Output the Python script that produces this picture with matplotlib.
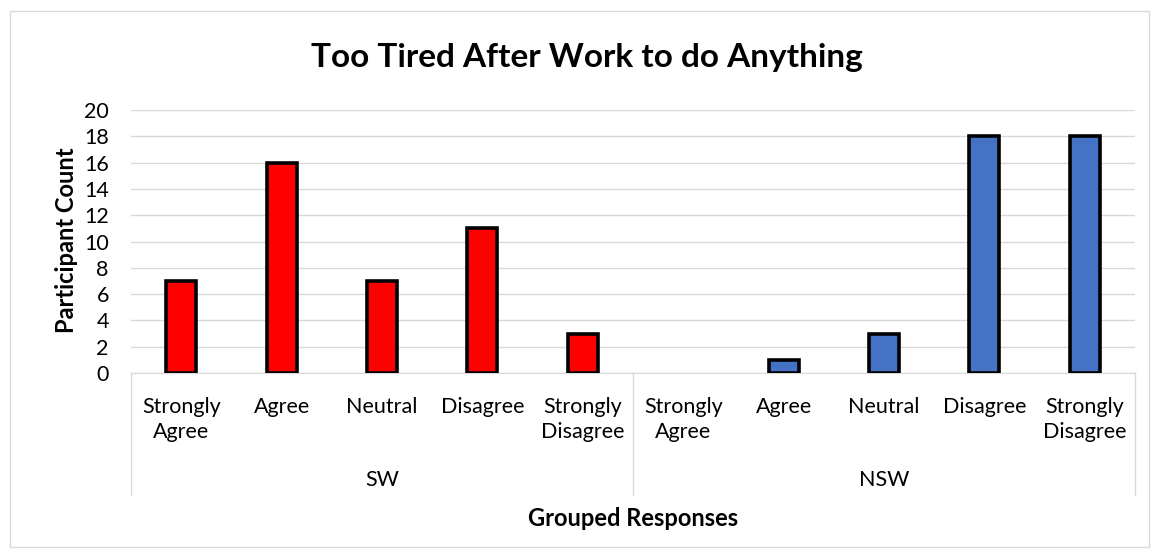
import matplotlib.pyplot as plt
from matplotlib.patches import Rectangle

plt.rcParams['font.family'] = ['Lato', 'DejaVu Sans']

# data
groups = ['SW', 'NSW']
responses = ['Strongly\nAgree', 'Agree', 'Neutral', 'Disagree', 'Strongly\nDisagree']
sw_counts = [7, 16, 7, 11, 3]
nsw_counts = [0, 1, 3, 18, 18]
group_colors = ['#FF0000', '#4472C4']

W, H = 1159, 557
fig = plt.figure(figsize=(W / 100, H / 100), dpi=100)

# light outer chart border like Excel
fig.patches.append(Rectangle((10 / W, 10 / H), 1139 / W, 536 / H, transform=fig.transFigure,
                             fill=False, edgecolor='#D9D9D9', linewidth=1))

ax = fig.add_axes([131 / W, 184 / H, 1004 / W, 263 / H])

labels = responses + responses
values = sw_counts + nsw_counts
colors = [group_colors[0]] * len(sw_counts) + [group_colors[1]] * len(nsw_counts)
x = list(range(len(values)))
edges = ['black' if v > 0 else 'none' for v in values]
ax.bar(x, values, width=0.3, color=colors, edgecolor=edges, linewidth=2.6, zorder=3)

ax.set_xlim(-0.5, len(values) - 0.5)
ax.set_ylim(0, 20)
ax.set_yticks(range(0, 21, 2))
ax.yaxis.grid(True, color='#D9D9D9', linewidth=1)
ax.set_axisbelow(True)
for s in ['top', 'right', 'left']:
    ax.spines[s].set_visible(False)
ax.spines['bottom'].set_color('#D9D9D9')
ax.tick_params(axis='y', length=0, labelsize=15.5, pad=16)
ax.set_xticks(x)
ax.set_xticklabels(labels, fontsize=15.5, linespacing=1.32, va='top')
ax.tick_params(axis='x', length=0, pad=17)

# group separators and group labels (multi-level category axis)
n = len(sw_counts)
for xs in [-0.5, n - 0.5, len(values) - 0.5]:
    ax.plot([xs, xs], [0, -0.465], transform=ax.get_xaxis_transform(), color='#D9D9D9',
            linewidth=1, clip_on=False)
for i, g in enumerate(groups):
    ax.text(i * n + (n - 1) / 2, -0.405, g, transform=ax.get_xaxis_transform(),
            ha='center', va='center', fontsize=15.5)

fig.text(66 / W, 1 - 240 / H, 'Participant Count', rotation=90, ha='center', va='center',
         fontsize=17, fontweight='bold')
fig.text(633 / W, 1 - 518 / H, 'Grouped Responses', ha='center', va='center', fontsize=17, fontweight='bold')
fig.text(587 / W, 1 - 58 / H, 'Too Tired After Work to do Anything', ha='center', va='center',
         fontsize=24, fontweight='bold')

fig.savefig('out.png', dpi=100)
